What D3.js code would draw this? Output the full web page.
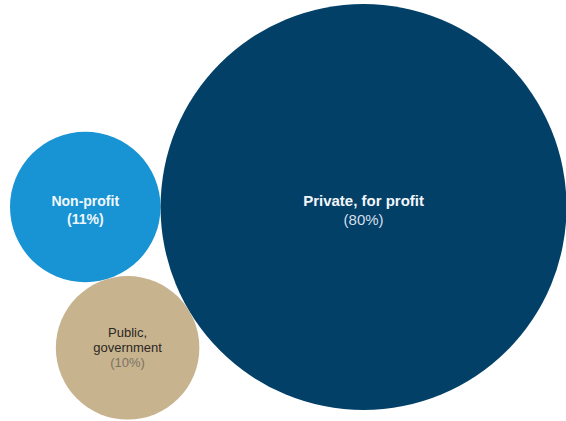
<!DOCTYPE html>
<html lang="en">
<head>
<meta charset="utf-8">
<title>Bubbles</title>
<style>
  body { margin: 0; background: #fff; }
  text { font-family: "Liberation Sans", Arial, sans-serif; }
</style>
</head>
<body>
<div id="chart"></div>
<script src="https://cdn.jsdelivr.net/npm/d3@7"></script>
<script>
// data
var categories = ["Private, for profit", "Non-profit", "Public, government"];
var shares = [80, 11, 10];
var nameLines = [["Private, for profit"], ["Non-profit"], ["Public,", "government"]];
var shareLabels = ["(80%)", "(11%)", "(10%)"];

// styles per bubble
var fills = ["#034068", "#1893d3", "#c8b38f"];
var nameStyle = [
  {color: "#f2f6fa", weight: "bold", size: 15, lh: 18.5, shift: 3},
  {color: "#f2f8fc", weight: "bold", size: 14, lh: 18.5, shift: 3},
  {color: "#2b2823", weight: "normal", size: 13, lh: 15, shift: 0}
];
var shareStyle = [
  {color: "#d4dfea", weight: "normal"},
  {color: "#eef6fc", weight: "bold"},
  {color: "#7a7263", weight: "normal"}
];

var width = 566, height = 421;

var svg = d3.select("#chart").append("svg")
    .attr("width", width)
    .attr("height", height);

var r = d3.scaleSqrt().domain([0, d3.max(shares)]).range([0, 203]);

// packSiblings order: non-profit, private, public -> private sits right, public tucks below
var order = [1, 0, 2];
var nodes = order.map(function(i) {
  return {i: i, r: r(shares[i])};
});
d3.packSiblings(nodes);

var tx = 10 - d3.min(nodes, function(d) { return d.x - d.r; }),
    ty = 4 - d3.min(nodes, function(d) { return d.y - d.r; });

var g = svg.append("g")
    .attr("transform", "translate(" + tx + "," + ty + ")");

var bubble = g.selectAll(".bubble")
    .data(nodes)
  .enter().append("g")
    .attr("class", "bubble")
    .attr("transform", function(d) { return "translate(" + d.x + "," + d.y + ")"; });

bubble.append("circle")
    .attr("r", function(d) { return d.r; })
    .attr("fill", function(d) { return fills[d.i]; });

bubble.each(function(d) {
  var st = nameStyle[d.i],
      lines = nameLines[d.i].concat([shareLabels[d.i]]),
      n = lines.length;
  var t = d3.select(this).append("text")
      .attr("text-anchor", "middle")
      .attr("font-size", st.size);
  lines.forEach(function(line, k) {
    var isShare = k === n - 1;
    t.append("tspan")
        .attr("x", 0)
        .attr("y", (k - (n - 1) / 2) * st.lh + 0.35 * st.size + st.shift)
        .attr("fill", isShare ? shareStyle[d.i].color : st.color)
        .attr("font-weight", isShare ? shareStyle[d.i].weight : st.weight)
        .text(line);
  });
});
</script>
</body>
</html>
